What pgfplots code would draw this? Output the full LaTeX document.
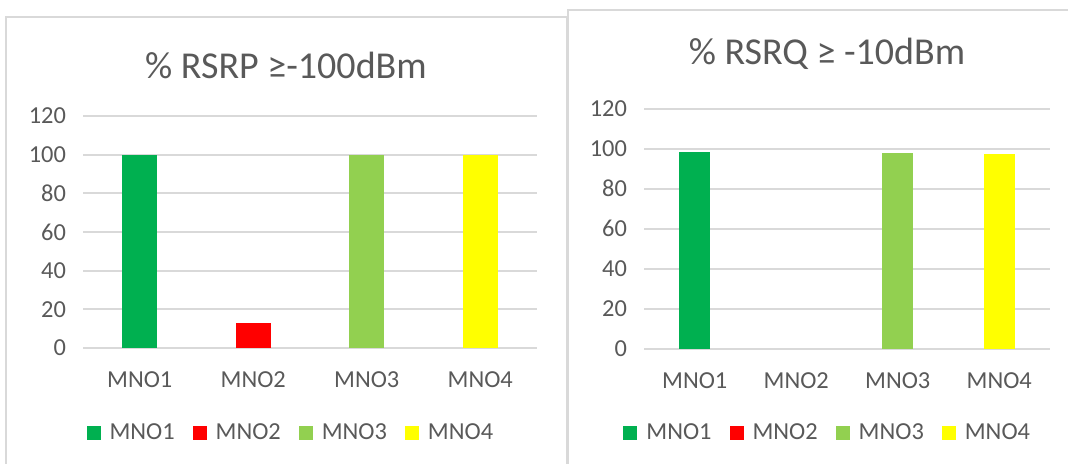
\documentclass[border=0pt]{standalone}
\usepackage{pgfplots}
\pgfplotsset{compat=1.18}
\usepackage{fontspec}
\setmainfont{Carlito}
\definecolor{txt}{HTML}{595959}
\definecolor{grd}{HTML}{D9D9D9}
\definecolor{gA}{HTML}{00B050}
\definecolor{rB}{HTML}{FF0000}
\definecolor{gC}{HTML}{92D050}
\definecolor{yD}{HTML}{FFFF00}
\pgfplotsset{
  mystyle/.style={
    scale only axis,
    ybar,
    xmin=-0.5, xmax=3.5, ymin=0, ymax=120,
    ytick={0,20,...,120},
    xtick={0,1,2,3},
    xticklabels={MNO1,MNO2,MNO3,MNO4},
    axis line style={draw=none},
    major tick length=0pt,
    ymajorgrids,
    grid style={grd, line width=0.9pt},
    /pgf/number format/assume math mode=true,
    tick label style={font=\fontsize{12.2}{14}\selectfont, text=txt},
    yticklabel style={xshift=-5pt},
    xticklabel style={yshift=-8.5pt},
    legend columns=4,
    legend image code/.code={\path[fill,draw=none,##1] (0pt,-3.3pt) rectangle (7pt,3.3pt);},
    legend style={draw=none, fill=none, anchor=center,
      font=\fontsize{12.2}{14}\selectfont, text=txt,
      /tikz/every odd column/.append style={column sep=2.5pt},
      /tikz/every even column/.append style={column sep=7pt}},
  }
}
\begin{document}
\begin{tikzpicture}
% panel frames
\draw[grd, line width=1pt] (3pt,-5pt) -- (3pt,223.5pt) -- (283.5pt,223.5pt) -- (283.5pt,-5pt);
\draw[grd, line width=1pt] (284pt,-5pt) -- (284pt,227pt) -- (540pt,227pt);
\fill[white] (284.6pt,-5pt) rectangle (540pt,226.4pt);

\begin{axis}[mystyle,
  at={(41.5pt,58pt)}, anchor=south west,
  width=227pt, height=116pt,
  legend style={at={(0.46,-0.366)}}]
\addplot[fill=gA, draw=none, bar shift=0pt, bar width=0.31] coordinates {(0,100)};
\addplot[fill=rB, draw=none, bar shift=0pt, bar width=0.31] coordinates {(1,13)};
\addplot[fill=gC, draw=none, bar shift=0pt, bar width=0.31] coordinates {(2,100)};
\addplot[fill=yD, draw=none, bar shift=0pt, bar width=0.31] coordinates {(3,100)};
\legend{MNO1,MNO2,MNO3,MNO4}
\end{axis}

\begin{axis}[mystyle,
  at={(322pt,57.65pt)}, anchor=south west,
  width=203pt, height=120pt,
  legend style={at={(0.455,-0.351)}}]
\addplot[fill=gA, draw=none, bar shift=0pt, bar width=0.305] coordinates {(0,98.3)};
\addlegendimage{fill=rB, draw=none}
\addplot[fill=none, draw=none, bar shift=0pt, bar width=0.305, forget plot] coordinates {(1,0)};
\addplot[fill=gC, draw=none, bar shift=0pt, bar width=0.305] coordinates {(2,97.9)};
\addplot[fill=yD, draw=none, bar shift=0pt, bar width=0.305] coordinates {(3,97.2)};
\legend{MNO1,MNO2,MNO3,MNO4}
\end{axis}

\node[anchor=base, font=\fontsize{19}{22}\selectfont, text=txt, inner sep=0pt] at (143pt,192.5pt) {\% RSRP ≥-100dBm};
\node[anchor=base, font=\fontsize{19}{22}\selectfont, text=txt, inner sep=0pt] at (413.5pt,199.5pt) {\% RSRQ ≥ -10dBm};

\pgfresetboundingbox
\useasboundingbox (0pt,0pt) rectangle (534pt,232pt);
\end{tikzpicture}
\end{document}
